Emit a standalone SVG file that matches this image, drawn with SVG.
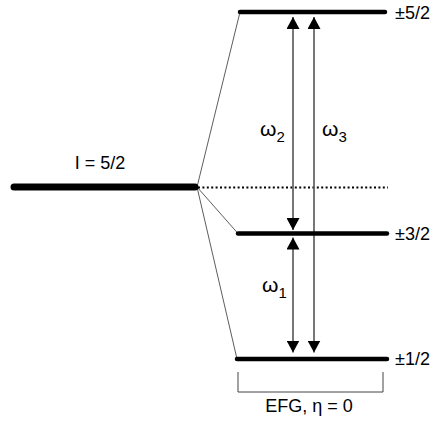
<svg xmlns="http://www.w3.org/2000/svg" width="431" height="421" viewBox="0 0 431 421">
<defs>
<style>
.lvl{stroke:#000;stroke-width:4.5;stroke-linecap:round;fill:none}
.thin{stroke:#333;stroke-width:0.8;fill:none}
.shaft{stroke:#555;stroke-width:1.6;fill:none}
.t{font-family:"Liberation Sans",Arial,sans-serif;font-size:18px;fill:#000}
.w{font-family:"Liberation Sans",Arial,sans-serif;font-size:21px;fill:#000}
.s{font-size:15px}
</style>
<marker id="ah" viewBox="0 0 12 13" refX="12" refY="6.5" markerWidth="12" markerHeight="13" markerUnits="userSpaceOnUse" orient="auto-start-reverse">
<path d="M0,0 L12,6.5 L0,13 Z" fill="#000"/>
</marker>
</defs>
<rect width="431" height="421" fill="#fff"/>
<g id="connectors">
<line class="thin" x1="197" y1="187" x2="240" y2="12"/>
<line class="thin" x1="197" y1="187" x2="238" y2="233.5"/>
<line class="thin" x1="197" y1="187" x2="237" y2="359"/>
<line x1="198" y1="187.5" x2="388" y2="187.5" stroke="#000" stroke-width="2.2" stroke-dasharray="2 2.4"/>
<line class="shaft" x1="293" y1="17" x2="293" y2="230" marker-start="url(#ah)" marker-end="url(#ah)"/>
<line class="shaft" x1="293" y1="237.5" x2="293" y2="352.5" marker-start="url(#ah)" marker-end="url(#ah)"/>
<line class="shaft" x1="314" y1="17" x2="314" y2="352.5" marker-start="url(#ah)" marker-end="url(#ah)"/>
</g>
<g id="ground">
<line x1="14" y1="187" x2="195" y2="187" stroke="#000" stroke-width="7" stroke-linecap="round"/>
<text class="t" x="100" y="169" text-anchor="middle">I = 5/2</text>
</g>
<g id="level-52">
<line class="lvl" x1="240" y1="12" x2="385" y2="12"/>
<text class="t" x="395" y="19">±5/2</text>
</g>
<g id="level-32">
<line class="lvl" x1="238" y1="233.5" x2="387" y2="233.5"/>
<text class="t" x="395" y="240">±3/2</text>
</g>
<g id="level-12">
<line class="lvl" x1="237" y1="359" x2="387" y2="359"/>
<text class="t" x="395" y="365">±1/2</text>
</g>
<g id="labels">
<text class="w" x="260" y="136">ω<tspan class="s" dy="6">2</tspan></text>
<text class="w" x="322" y="136">ω<tspan class="s" dy="6">3</tspan></text>
<text class="w" x="262" y="292">ω<tspan class="s" dy="6">1</tspan></text>
</g>
<g id="efg">
<path d="M238,372 V392 H383 V372" fill="none" stroke="#444" stroke-width="1"/>
<text class="t" x="309" y="412" text-anchor="middle">EFG, η = 0</text>
</g>
</svg>
